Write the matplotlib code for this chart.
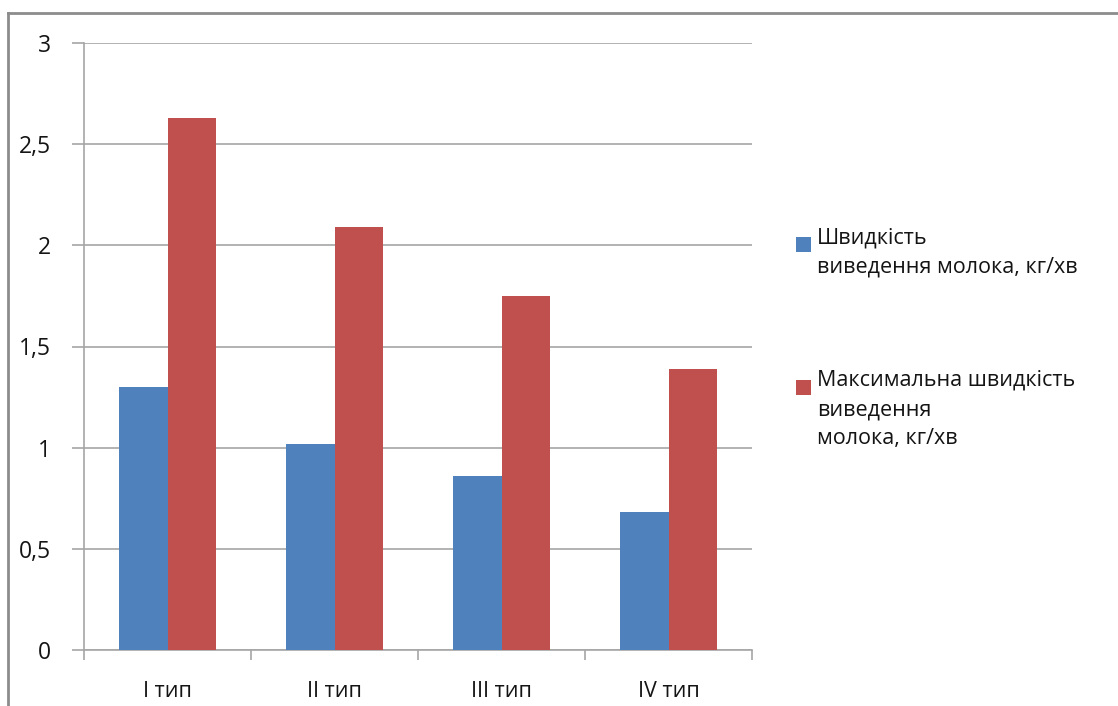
import matplotlib
matplotlib.use("Agg")
import matplotlib.pyplot as plt
import numpy as np
from matplotlib.patches import Rectangle

categories = ["I тип", "II тип", "III тип", "IV тип"]
speed = [1.30, 1.02, 0.86, 0.68]
max_speed = [2.63, 2.09, 1.75, 1.39]
series_labels = ["Швидкість\nвиведення молока, кг/хв",
                 "Максимальна швидкість\nвиведення\nмолока, кг/хв"]
yticks = [0, 0.5, 1, 1.5, 2, 2.5, 3]
ytick_labels = ["0", "0,5", "1", "1,5", "2", "2,5", "3"]

blue = "#4F81BD"
red = "#C0504D"
grid_c = "#A6A6A6"
txt_c = "#141414"

plt.rcParams['font.family'] = ['Open Sans', 'DejaVu Sans']

W, H = 1118, 706
fig = plt.figure(figsize=(W/100, H/100), dpi=100)
ax = fig.add_axes([84/W, 1-650/H, (752-84)/W, (650-43)/H])

x = np.arange(len(categories))
bw = 0.288
ax.bar(x - bw/2, speed, bw, color=blue, zorder=3)
ax.bar(x + bw/2, max_speed, bw, color=red, zorder=3)

ax.set_xlim(-0.5, len(categories) - 0.5)
ax.set_ylim(0, 3)
ax.set_yticks(yticks)
ax.set_yticklabels(ytick_labels, fontsize=16.5, color=txt_c)
ax.yaxis.grid(True, color=grid_c, linewidth=1.2, zorder=0)
ax.set_xticks(x)
ax.set_xticklabels(categories, fontsize=15.5, color=txt_c)
ax.tick_params(axis='x', length=0, pad=22)
ax.set_xticks(np.arange(len(categories) + 1) - 0.5, minor=True)
ax.tick_params(axis='x', which='minor', length=7, color=grid_c, width=1.2, direction='out')
ax.tick_params(axis='y', length=9, color=grid_c, width=1.2, pad=15)
for s in ['top', 'right']:
    ax.spines[s].set_visible(False)
for s in ['left', 'bottom']:
    ax.spines[s].set_color(grid_c)
    ax.spines[s].set_linewidth(1.2)

# outer border (left and top visible)
fig.add_artist(plt.Line2D([8/W, 8/W], [0, 1-13/H], transform=fig.transFigure, color="#8C8C8C", lw=2))
fig.add_artist(plt.Line2D([8/W, 1], [1-13/H, 1-13/H], transform=fig.transFigure, color="#8C8C8C", lw=2))

# legend
entries = [(blue, series_labels[0], 244), (red, series_labels[1], 387)]
for col, lab, ytop in entries:
    fig.add_artist(Rectangle((796/W, 1-(ytop+8)/H), 15/W, 15/H, transform=fig.transFigure,
                             facecolor=col, edgecolor='none'))
    fig.text(817/W, 1-(ytop-17)/H, lab, fontsize=15.5, color=txt_c, va='top', ha='left',
             linespacing=1.5)

fig.savefig("out.png", dpi=100)
